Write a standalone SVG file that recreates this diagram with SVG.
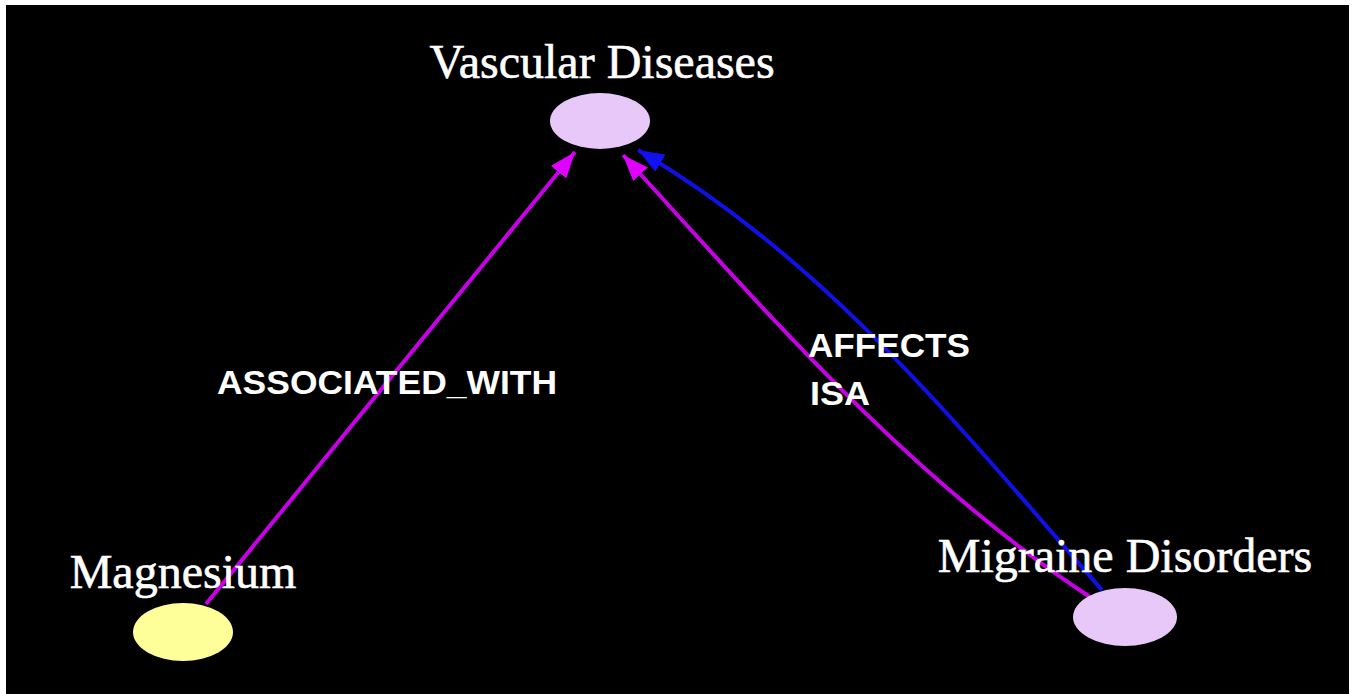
<svg xmlns="http://www.w3.org/2000/svg" width="1355" height="694" viewBox="0 0 1355 694">
<defs>
<style>
.node-label{font-family:"Liberation Serif","Times New Roman",serif;font-size:48px;fill:#ffffff;stroke:#ffffff;stroke-width:0.6;text-anchor:middle}
.edge-label{font-family:"Liberation Sans",Arial,sans-serif;font-size:34px;font-weight:bold;fill:#ffffff}
.edge{fill:none;stroke-width:4}
.mag{stroke:#c800e8}
.blue{stroke:#1010e8}
.lav{fill:#e8c8f8}
.yel{fill:#ffff99}
</style>
<marker id="arrMag" viewBox="0 0 26 20" refX="26" refY="10" markerWidth="26" markerHeight="20" markerUnits="userSpaceOnUse" orient="auto">
<path d="M0,0 L26,10 L0,20 Z" fill="#e000ff"/>
</marker>
<marker id="arrBlue" viewBox="0 0 26 20" refX="26" refY="10" markerWidth="26" markerHeight="20" markerUnits="userSpaceOnUse" orient="auto">
<path d="M0,0 L26,10 L0,20 Z" fill="#1010f0"/>
</marker>
</defs>
<rect x="0" y="0" width="1355" height="694" fill="#ffffff"/>
<rect x="6" y="5" width="1343" height="689" fill="#000000"/>
<g id="connectors">
<path class="edge mag" d="M206,604 L575,152" marker-end="url(#arrMag)"/>
<path class="edge mag" d="M1090,597 C908,477 768,314 623,155" marker-end="url(#arrMag)"/>
<path class="edge blue" d="M1102,590 C961,429 827,261 638,150" marker-end="url(#arrBlue)"/>
<text class="edge-label" x="217" y="394" textLength="340" lengthAdjust="spacingAndGlyphs">ASSOCIATED_WITH</text>
<text class="edge-label" x="808" y="357" textLength="162" lengthAdjust="spacingAndGlyphs">AFFECTS</text>
<text class="edge-label" x="810" y="405" textLength="60" lengthAdjust="spacingAndGlyphs">ISA</text>
</g>
<g id="node-vascular">
<ellipse class="lav" cx="600" cy="121" rx="50" ry="28"/>
<text class="node-label" x="602" y="78">Vascular Diseases</text>
</g>
<g id="node-magnesium">
<ellipse class="yel" cx="183" cy="632" rx="50" ry="29"/>
<text class="node-label" x="183" y="588">Magnesium</text>
</g>
<g id="node-migraine">
<ellipse class="lav" cx="1125" cy="617" rx="52" ry="29"/>
<text class="node-label" x="1125" y="572">Migraine Disorders</text>
</g>
</svg>
